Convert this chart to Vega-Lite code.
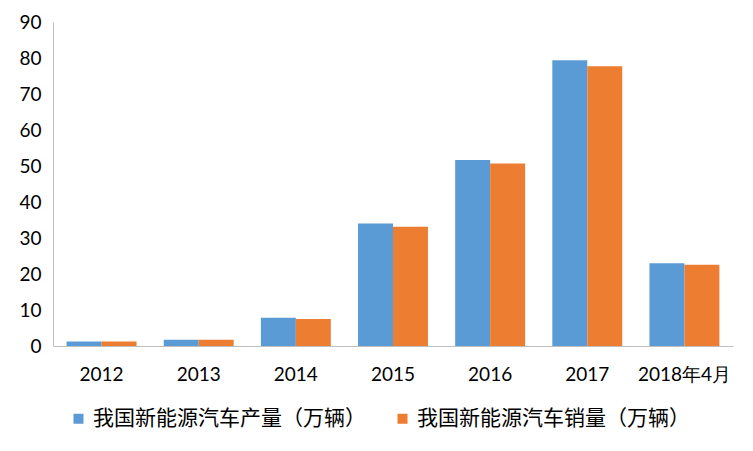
{
  "$schema": "https://vega.github.io/schema/vega-lite/v6.json",
  "width": 680,
  "height": 324,
  "autosize": {"type": "none"},
  "padding": {"left": 53, "top": 22, "right": 20, "bottom": 105},
  "background": "white",
  "config": {
    "view": {"stroke": null},
    "font": "Lato"
  },
  "data": {
    "values": [
      {"year": "2012", "series": "我国新能源汽车产量（万辆）", "value": 1.28},
      {"year": "2012", "series": "我国新能源汽车销量（万辆）", "value": 1.28},
      {"year": "2013", "series": "我国新能源汽车产量（万辆）", "value": 1.75},
      {"year": "2013", "series": "我国新能源汽车销量（万辆）", "value": 1.76},
      {"year": "2014", "series": "我国新能源汽车产量（万辆）", "value": 7.85},
      {"year": "2014", "series": "我国新能源汽车销量（万辆）", "value": 7.48},
      {"year": "2015", "series": "我国新能源汽车产量（万辆）", "value": 34.05},
      {"year": "2015", "series": "我国新能源汽车销量（万辆）", "value": 33.11},
      {"year": "2016", "series": "我国新能源汽车产量（万辆）", "value": 51.7},
      {"year": "2016", "series": "我国新能源汽车销量（万辆）", "value": 50.7},
      {"year": "2017", "series": "我国新能源汽车产量（万辆）", "value": 79.4},
      {"year": "2017", "series": "我国新能源汽车销量（万辆）", "value": 77.7},
      {"year": "2018年4月", "series": "我国新能源汽车产量（万辆）", "value": 23.0},
      {"year": "2018年4月", "series": "我国新能源汽车销量（万辆）", "value": 22.6}
    ]
  },
  "mark": {"type": "bar"},
  "encoding": {
    "x": {
      "field": "year", "type": "nominal", "sort": null,
      "scale": {"paddingInner": 0.28, "paddingOuter": 0.14},
      "axis": {
        "title": null, "labelAngle": 0, "ticks": false, "domainColor": "#BFBFBF",
        "labelFontSize": 19, "labelColor": "#000000", "labelPadding": 19,
        "labelFont": "Lato"
      }
    },
    "xOffset": {"field": "series", "type": "nominal", "sort": null},
    "y": {
      "field": "value", "type": "quantitative",
      "scale": {"domain": [0, 90]},
      "axis": {
        "title": null, "values": [0,10,20,30,40,50,60,70,80,90], "grid": false,
        "ticks": false, "domainColor": "#BFBFBF", "labelFontSize": 19,
        "labelColor": "#000000", "labelPadding": 12, "labelFont": "Lato"
      }
    },
    "color": {
      "field": "series", "type": "nominal", "sort": null,
      "scale": {"range": ["#5B9BD5", "#ED7D31"]},
      "legend": {
        "title": null, "orient": "none", "direction": "horizontal",
        "legendX": 15, "legendY": 386, "symbolType": "square", "symbolSize": 100,
        "labelFontSize": 21, "labelFont": "Noto Sans CJK SC", "labelColor": "#000000",
        "columnPadding": 26, "labelLimit": 400, "labelOffset": 4
      }
    }
  }
}
